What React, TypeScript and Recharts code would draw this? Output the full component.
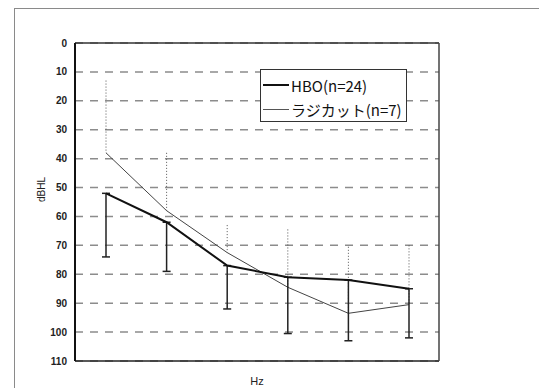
import {
  CartesianGrid,
  ErrorBar,
  Legend,
  Line,
  LineChart,
  XAxis,
  YAxis,
} from "recharts";

// Frequencies are not labelled on the axis in the original, only "Hz".
const frequencies = ["125", "250", "500", "1000", "2000", "4000"];

// HBO group: mean thresholds (dBHL) with SD drawn downward only.
const hboMean = [52, 62, 77, 81, 82, 85];
const hboSd = [22, 17, 15, 19.5, 21, 17];

// Radicut group: mean thresholds with SD drawn upward only (dotted).
const radicutMean = [38, 58, 72.5, 84.5, 93.5, 90.5];
const radicutSd = [25, 20, 9.5, 20, 23, 20.5];

const yTicks = [0, 10, 20, 30, 40, 50, 60, 70, 80, 90, 100, 110];

const HBO_LABEL = "HBO(n=24)";
const RADICUT_LABEL = "ラジカット(n=7)";

const data = frequencies.map((f, i) => ({
  freq: f,
  hbo: hboMean[i],
  hboErr: [0, hboSd[i]],
  radicut: radicutMean[i],
  radicutErr: [radicutSd[i], 0],
}));

// one-sided bars: hide the cap that would sit on the mean point
const css = `.hbo-line .recharts-errorBar line:nth-of-type(3){display:none}`;

export default function App() {
  return (
    <div
      style={{
        position: "absolute",
        left: 0,
        top: 0,
        width: 539,
        height: 388,
        overflow: "hidden",
        background: "#fff",
      }}
    >
      <style>{css}</style>
      {/* outer figure frame, only its top and left edges fall inside the crop */}
      <div
        style={{
          position: "absolute",
          left: 14,
          top: 8,
          width: 700,
          height: 600,
          borderTop: "1px solid #8a8a8a",
          borderLeft: "1px solid #8a8a8a",
        }}
      />
      <div style={{ position: "absolute", left: 0, top: 0 }}>
        <LineChart
          width={539}
          height={388}
          data={data}
          margin={{ top: 42, right: 99, bottom: 0, left: 0 }}
        >
          <CartesianGrid
            vertical={false}
            stroke="#8c8c8c"
            strokeWidth={1.5}
            strokeDasharray="8 7"
          />
          <XAxis
            dataKey="freq"
            height={27}
            tick={false}
            tickLine={false}
            axisLine={{ stroke: "#222", strokeWidth: 1.5 }}
            padding={{ left: 31, right: 30 }}
            label={{
              value: "Hz",
              position: "insideBottom",
              offset: 3,
              style: { fontSize: 11, fill: "#222", fontFamily: "Liberation Sans" },
            }}
          />
          <XAxis
            xAxisId="top"
            dataKey="freq"
            orientation="top"
            height={1}
            tick={false}
            tickLine={false}
            axisLine={{ stroke: "#333", strokeWidth: 1.5 }}
          />
          <YAxis
            width={75}
            reversed
            domain={[0, 110]}
            ticks={yTicks}
            interval={0}
            tickLine={false}
            axisLine={{ stroke: "#111", strokeWidth: 2 }}
            tick={{
              fontSize: 10,
              fontWeight: "bold",
              fill: "#222",
              fontFamily: "Liberation Sans",
            }}
            label={{
              value: "dBHL",
              angle: -90,
              position: "insideLeft",
              offset: 41,
              style: { fontSize: 10, fill: "#222", fontFamily: "Liberation Sans" },
            }}
          />
          <YAxis
            yAxisId="right"
            orientation="right"
            type="number"
            domain={[0, 110]}
            width={1}
            tick={false}
            tickLine={false}
            axisLine={{ stroke: "#444", strokeWidth: 1.5 }}
          />
          <Legend
            layout="horizontal"
            verticalAlign="middle"
            align="center"
            wrapperStyle={{
              position: "absolute",
              left: 260,
              top: 69,
              width: 147,
              height: 53,
              boxSizing: "border-box",
              border: "1px solid #333",
              background: "#fff",
            }}
            content={() => (
              <div style={{ paddingTop: 3 }}>
                <LegendRow color="#111" width={2} label={HBO_LABEL} />
                <LegendRow color="#555" width={1} label={RADICUT_LABEL} />
              </div>
            )}
          />
          <Line
            type="linear"
            dataKey="radicut"
            name={RADICUT_LABEL}
            stroke="#444"
            strokeWidth={1}
            dot={false}
            isAnimationActive={false}
          >
            <ErrorBar
              dataKey="radicutErr"
              width={0}
              stroke="#555"
              strokeWidth={1}
              strokeDasharray="1 2"
              isAnimationActive={false}
            />
          </Line>
          <Line
            className="hbo-line"
            type="linear"
            dataKey="hbo"
            name={HBO_LABEL}
            stroke="#111"
            strokeWidth={2}
            dot={false}
            isAnimationActive={false}
          >
            <ErrorBar
              dataKey="hboErr"
              width={4}
              stroke="#222"
              strokeWidth={1.5}
              isAnimationActive={false}
            />
          </Line>
        </LineChart>
      </div>
    </div>
  );
}

function LegendRow({ color, width, label }: { color: string; width: number; label: string }) {
  return (
    <div
      style={{
        display: "flex",
        alignItems: "center",
        height: 24,
        paddingLeft: 2,
        fontSize: 15,
        fontFamily: "'Noto Sans CJK JP'",
        color: "#111",
        whiteSpace: "nowrap",
      }}
    >
      <span
        style={{
          display: "inline-block",
          width: 26,
          borderTop: `${width}px solid ${color}`,
          marginRight: 2,
        }}
      />
      {label}
    </div>
  );
}
